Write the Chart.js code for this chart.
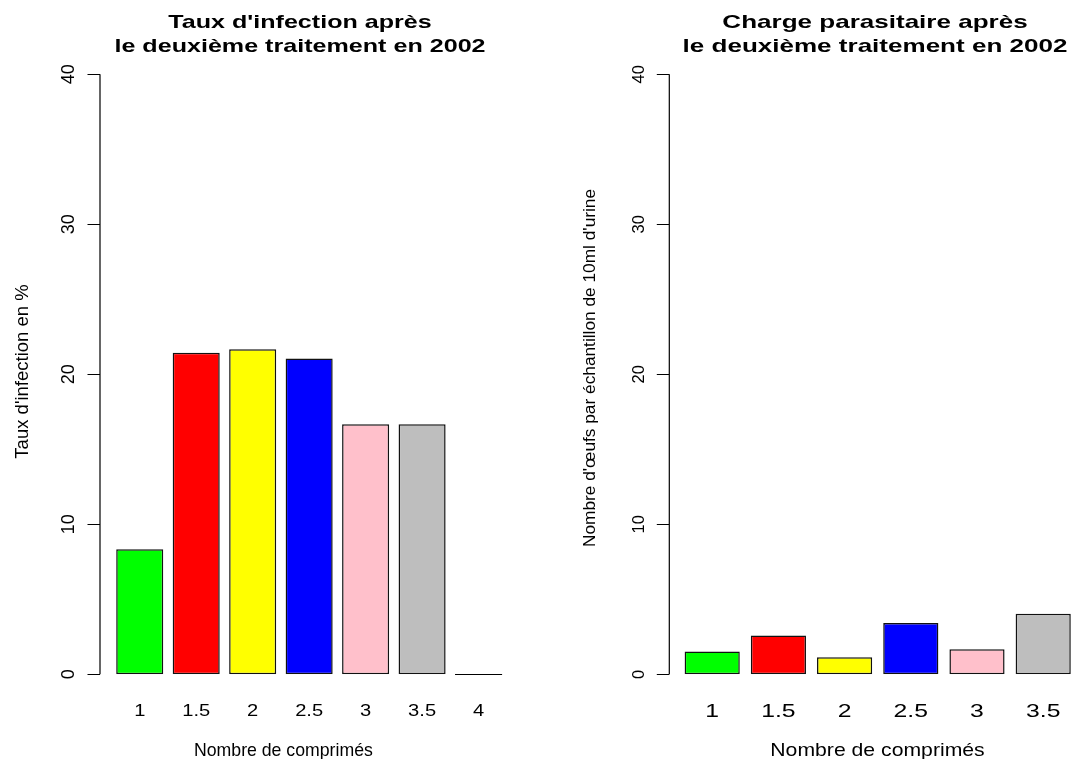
<!DOCTYPE html>
<html lang="fr">
<head>
<meta charset="utf-8">
<title>Traitement 2002</title>
<script src="https://cdn.jsdelivr.net/npm/chart.js@4/dist/chart.umd.min.js"></script>
<style>
  html, body { margin: 0; padding: 0; background: #fff; overflow: hidden; }
  body { width: 1073px; height: 759px; position: relative; }
  .panel { position: absolute; top: 0; height: 759px; }
  #leftPanel { left: 0; width: 537px; }
  #rightPanel { left: 537px; width: 560px; }
</style>
</head>
<body>
<div class="panel" id="leftPanel"><canvas id="infectionChart"></canvas></div>
<div class="panel" id="rightPanel"><canvas id="loadChart"></canvas></div>
<script>
'use strict';

// data
const infectionDoses = ['1', '1.5', '2', '2.5', '3', '3.5', '4'];
const infectionRates = [8.33, 21.43, 21.67, 21.05, 16.67, 16.67, 0];
const loadDoses = ['1', '1.5', '2', '2.5', '3', '3.5'];
const eggCounts = [1.52, 2.58, 1.13, 3.42, 1.67, 4.04];
const yTicks = [0, 10, 20, 30, 40];
const barColours = ['#00FF00', '#FF0000', '#FFFF00', '#0000FF', '#FFC0CB', '#BEBEBE', '#FFFFFF'];

const FONT = '"Liberation Sans", Arial, Helvetica, sans-serif';

function drawText(ctx, str, x, y, size, opts) {
  opts = opts || {};
  ctx.save();
  ctx.translate(x, y);
  if (opts.rotate) ctx.rotate(-Math.PI / 2);
  ctx.scale(opts.sx || 1, 1);
  ctx.font = (opts.bold ? 'bold ' : '') + size + 'px ' + FONT;
  ctx.fillStyle = '#000';
  ctx.textAlign = 'center';
  ctx.textBaseline = 'alphabetic';
  ctx.fillText(str, 0, 0);
  ctx.restore();
}

// base-R style axes, titles and labels, drawn from the chart's own scales
function rStylePlugin(panel) {
  return {
    id: 'rStyle',
    afterDatasetsDraw(chart) {
      const ctx = chart.ctx;
      const area = chart.chartArea;
      const xScale = chart.scales.x;
      const yScale = chart.scales.y;
      const ox = panel.offsetX;
      const axisX = area.left - panel.axisGap;

      ctx.save();
      ctx.strokeStyle = '#000';
      ctx.lineWidth = 1.2;
      ctx.beginPath();
      ctx.moveTo(axisX, yScale.getPixelForValue(yTicks[0]));
      ctx.lineTo(axisX, yScale.getPixelForValue(yTicks[yTicks.length - 1]));
      yTicks.forEach(function (t) {
        const py = Math.round(yScale.getPixelForValue(t)) + 0.5;
        ctx.moveTo(axisX, py);
        ctx.lineTo(axisX - 12.5, py);
      });
      ctx.stroke();

      // zero-height bars still show their outline in R
      const meta = chart.getDatasetMeta(0);
      meta.data.forEach(function (bar, i) {
        if (chart.data.datasets[0].data[i] === 0) {
          const p = bar.getProps(['x', 'width', 'base'], true);
          ctx.beginPath();
          ctx.moveTo(p.x - p.width / 2, Math.round(p.base) + 0.5);
          ctx.lineTo(p.x + p.width / 2, Math.round(p.base) + 0.5);
          ctx.stroke();
        }
      });
      ctx.restore();

      yTicks.forEach(function (t) {
        drawText(ctx, String(t), panel.yTickBaseX - ox, yScale.getPixelForValue(t),
          panel.yTickSize, { rotate: true });
      });
      chart.data.labels.forEach(function (lab, i) {
        drawText(ctx, lab, xScale.getPixelForValue(i), panel.xTickBaseY,
          panel.xTickSize, { sx: panel.xTickSx });
      });

      panel.title.forEach(function (line, i) {
        drawText(ctx, line, panel.titleX - ox, panel.titleY[i], 18.6,
          { bold: true, sx: panel.titleSx });
      });
      drawText(ctx, panel.xLabel, panel.xLabelX - ox, 756, panel.xLabelSize,
        { sx: panel.xLabelSx });
      drawText(ctx, panel.yLabel, panel.yLabelBaseX - ox, panel.yLabelY,
        panel.yLabelSize, { rotate: true });
    },
  };
}

function createBarPanel(canvasId, labels, values, panel) {
  const canvas = document.getElementById(canvasId);
  return new Chart(canvas, {
    type: 'bar',
    data: {
      labels: labels,
      datasets: [
        {
          data: values,
          backgroundColor: barColours.slice(0, values.length),
          borderColor: '#111',
          borderWidth: 1.5,
          borderSkipped: false,
          barPercentage: 1 / 1.2,
          categoryPercentage: 1,
        },
      ],
    },
    options: {
      responsive: true,
      maintainAspectRatio: false,
      animation: false,
      layout: { padding: panel.padding },
      plugins: {
        legend: { display: false },
        tooltip: { enabled: false },
      },
      scales: {
        x: { display: false },
        y: { display: false, min: 0, max: 40 },
      },
    },
    plugins: [rStylePlugin(panel)],
  });
}

createBarPanel('infectionChart', infectionDoses, infectionRates, {
  offsetX: 0,
  padding: { left: 111.5, right: 30.2, top: 74.3, bottom: 84.7 },
  axisGap: 11.5,
  yTickBaseX: 74,
  yTickSize: 18,
  xTickBaseY: 716,
  xTickSize: 16.5,
  xTickSx: 1.22,
  title: ["Taux d'infection après", 'le deuxième traitement en 2002'],
  titleX: 300,
  titleY: [28.3, 51.5],
  titleSx: 1.35,
  xLabel: 'Nombre de comprimés',
  xLabelX: 283.4,
  xLabelSize: 17.7,
  xLabelSx: 1,
  yLabel: "Taux d'infection en %",
  yLabelBaseX: 28.3,
  yLabelY: 371.5,
  yLabelSize: 18.5,
});

createBarPanel('loadChart', loadDoses, eggCounts, {
  offsetX: 537,
  padding: { left: 142.1, right: 20.7, top: 74.3, bottom: 84.7 },
  axisGap: 9.8,
  yTickBaseX: 644,
  yTickSize: 16.5,
  xTickBaseY: 716.5,
  xTickSize: 18.6,
  xTickSx: 1.33,
  title: ['Charge parasitaire après', 'le deuxième traitement en 2002'],
  titleX: 875,
  titleY: [28.3, 51.5],
  titleSx: 1.4,
  xLabel: 'Nombre de comprimés',
  xLabelX: 877.5,
  xLabelSize: 18.6,
  xLabelSx: 1.14,
  yLabel: "Nombre d'œufs par échantillon de 10ml d'urine",
  yLabelBaseX: 595,
  yLabelY: 368,
  yLabelSize: 17.3,
});
</script>
</body>
</html>
